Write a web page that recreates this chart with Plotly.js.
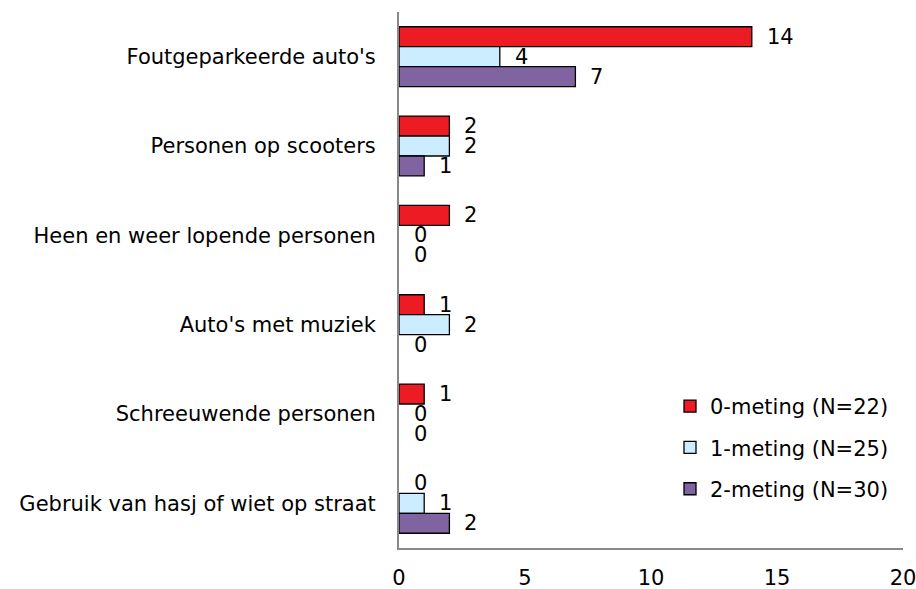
<!DOCTYPE html>
<html>
<head>
<meta charset="utf-8">
<script src="https://cdn.plot.ly/plotly-3.0.1.min.js"></script>
<style>html,body{margin:0;padding:0;background:#fff;}#chart{width:916px;height:589px;}</style>
</head>
<body>
<div id="chart"></div>
<script>
const categories = ["Foutgeparkeerde auto's", "Personen op scooters", "Heen en weer lopende personen", "Auto's met muziek", "Schreeuwende personen", "Gebruik van hasj of wiet op straat"];
const seriesNames = ["0-meting (N=22)", "1-meting (N=25)", "2-meting (N=30)"];
const meting0 = [14, 2, 2, 1, 1, 0];
const meting1 = [4, 2, 0, 2, 0, 1];
const meting2 = [7, 1, 0, 0, 0, 2];
const xTicks = [0, 5, 10, 15, 20];

const series = [meting0, meting1, meting2];
const colors = ["#ED1C24", "#CCECFF", "#8064A2"];
const FONT = "DejaVu Sans";
const FS = 21;
const bargap = 0.33;

const traces = series.map((vals, i) => ({
  type: 'bar',
  orientation: 'h',
  name: seriesNames[i],
  x: vals,
  y: categories,
  marker: {color: colors[i], line: {color: '#000', width: vals.map(v => v === 0 ? 0 : 1.3)}},
  legendgroup: 'g' + i,
  hoverinfo: 'x'
}));

const w = (1 - bargap) / 3;
const annotations = [];
series.forEach((vals, i) => {
  vals.forEach((v, j) => {
    annotations.push({
      x: v, y: j + (i - 1) * w, xref: 'x', yref: 'y',
      text: String(v), showarrow: false, xanchor: 'left', yanchor: 'middle',
      xshift: 13, font: {family: FONT, size: FS, color: '#000'}
    });
  });
});

const layout = {
  width: 916, height: 589,
  margin: {l: 399, r: 13, t: 12, b: 41},
  paper_bgcolor: '#fff', plot_bgcolor: '#fff',
  barmode: 'group', bargap: bargap, bargroupgap: 0,
  font: {family: FONT, size: FS, color: '#000'},
  xaxis: {range: [0, 20], tickvals: xTicks, ticktext: xTicks.map(String), showgrid: false, zeroline: false,
          showline: true, linecolor: '#898989', linewidth: 2, ticks: '', ticklabelstandoff: 10,
          ticklabeloverflow: 'allow',
          tickfont: {family: FONT, size: FS, color: '#000'}, fixedrange: true},
  yaxis: {type: 'category', autorange: 'reversed', showgrid: false, zeroline: false,
          showline: true, linecolor: '#898989', linewidth: 2, ticks: '', ticklabelstandoff: 17,
          ticklabeloverflow: 'allow',
          tickfont: {family: FONT, size: FS, color: '#000'}, fixedrange: true},
  showlegend: true,
  legend: {x: (670 - 399) / 504, y: 1 - (386 - 12) / 536, xanchor: 'left', yanchor: 'top',
           bgcolor: 'rgba(0,0,0,0)', tracegroupgap: 11, traceorder: 'grouped',
           font: {family: FONT, size: FS, color: '#000'}},
  annotations: annotations
};

Plotly.newPlot('chart', traces, layout, {displayModeBar: false, staticPlot: true});
</script>
</body>
</html>
